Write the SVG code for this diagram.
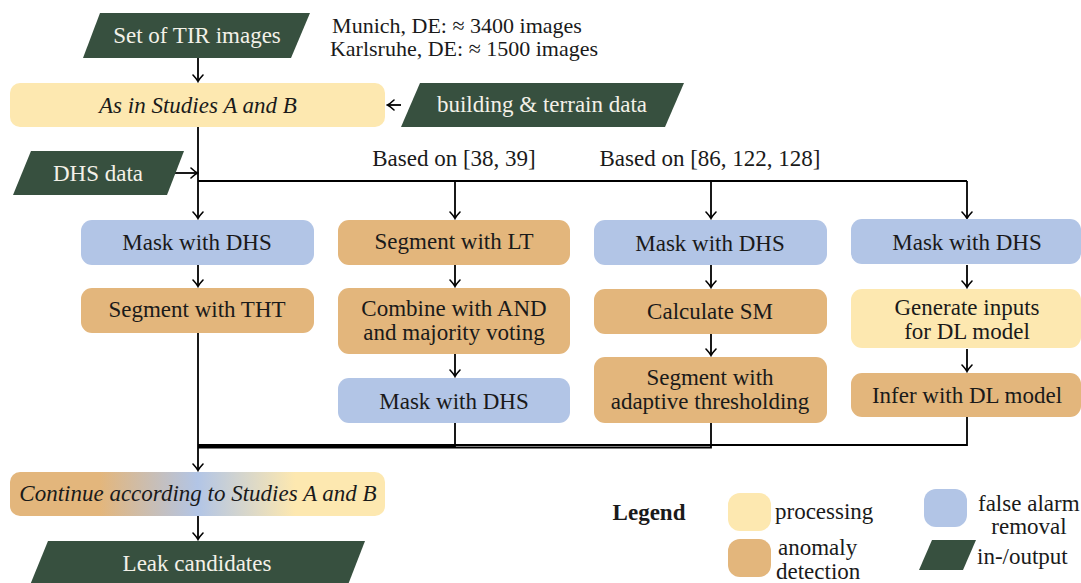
<svg xmlns="http://www.w3.org/2000/svg" width="1081" height="583" viewBox="0 0 1081 583">
  <defs>
    <marker id="ah" viewBox="-8 -6 10 12" refX="0" refY="0" markerWidth="10" markerHeight="12" markerUnits="userSpaceOnUse" orient="auto">
      <path d="M-6,-5 Q-2,-1.2 0.5,0 Q-2,1.2 -6,5" stroke="#000" stroke-width="1.6" fill="none" stroke-linecap="round"/>
    </marker>
    <linearGradient id="mix" x1="10" y1="0" x2="385" y2="0" gradientUnits="userSpaceOnUse">
      <stop offset="0" stop-color="#e3b67c"/>
      <stop offset="0.24" stop-color="#e3b67c"/>
      <stop offset="0.5" stop-color="#b2c5e6"/>
      <stop offset="0.76" stop-color="#fde8b0"/>
      <stop offset="1" stop-color="#fde8b0"/>
    </linearGradient>
  </defs>

  <!-- connectors -->
  <g id="connectors" stroke="#000" stroke-width="1.8" fill="none">
    <g marker-end="url(#ah)">
      <line x1="198" y1="58" x2="198" y2="81"/>
      <line x1="401" y1="105" x2="388" y2="105"/>
      <line x1="198" y1="127" x2="198" y2="218"/>
      <line x1="175" y1="173" x2="197" y2="173"/>
      <line x1="455" y1="181" x2="455" y2="218"/>
      <line x1="711" y1="181" x2="711" y2="218"/>
      <line x1="967" y1="181" x2="967" y2="218"/>
      <line x1="198" y1="265" x2="198" y2="286"/>
      <line x1="455" y1="265" x2="455" y2="286"/>
      <line x1="711" y1="265" x2="711" y2="287"/>
      <line x1="967" y1="265" x2="967" y2="287"/>
      <line x1="455" y1="354" x2="455" y2="376"/>
      <line x1="711" y1="334" x2="711" y2="355"/>
      <line x1="967" y1="349" x2="967" y2="371"/>
      <line x1="198" y1="333" x2="198" y2="470"/>
      <line x1="198" y1="516" x2="198" y2="539"/>
    </g>
    <polyline points="198,181 967,181"/>
    <polyline points="455,423 455,446 198,446"/>
    <polyline points="711,423 711,447.5 198,447.5"/>
    <polyline points="967,417 967,445 198,445"/>
  </g>

  <!-- all labels share one serif face -->
  <g font-family="'Liberation Serif', serif" font-size="23" fill="#1a1a1a" text-anchor="middle" dominant-baseline="central">

    <g id="tir-images">
      <polygon fill="#37503f" points="100,13 310,13 291,58 83,58"/>
      <text fill="#f3f1e8" x="197" y="35">Set of TIR images</text>
    </g>
    <g id="image-counts" font-size="22">
      <text x="457" y="25">Munich, DE: ≈ 3400 images</text>
      <text x="464" y="48">Karlsruhe, DE: ≈ 1500 images</text>
    </g>

    <g id="studies-ab">
      <rect fill="#fde8b0" x="10" y="83" width="375" height="44" rx="10"/>
      <text font-style="italic" x="198" y="105">As in Studies A and B</text>
    </g>

    <g id="building-terrain">
      <polygon fill="#37503f" points="420,83 684,83 665,127 401,127"/>
      <text fill="#f3f1e8" x="542" y="104">building &amp; terrain data</text>
    </g>

    <g id="dhs-data">
      <polygon fill="#37503f" points="31,151 184,151 167,195 13,195"/>
      <text fill="#f3f1e8" x="98" y="173">DHS data</text>
    </g>

    <g id="refs">
      <text x="454" y="158">Based on [38, 39]</text>
      <text x="710" y="158">Based on [86, 122, 128]</text>
    </g>

    <!-- column 1 -->
    <g id="c1-mask">
      <rect fill="#b2c5e6" x="81" y="220" width="233" height="45" rx="11"/>
      <text x="197" y="242">Mask with DHS</text>
    </g>
    <g id="c1-tht">
      <rect fill="#e3b67c" x="81" y="288" width="233" height="45" rx="11"/>
      <text x="197" y="309">Segment with THT</text>
    </g>

    <!-- column 2 -->
    <g id="c2-lt">
      <rect fill="#e3b67c" x="338" y="220" width="232" height="45" rx="11"/>
      <text x="454" y="241">Segment with LT</text>
    </g>
    <g id="c2-combine">
      <rect fill="#e3b67c" x="338" y="288" width="232" height="66" rx="11"/>
      <text x="454" y="308">Combine with AND</text>
      <text x="454" y="332">and majority voting</text>
    </g>
    <g id="c2-mask">
      <rect fill="#b2c5e6" x="338" y="378" width="232" height="45" rx="11"/>
      <text x="454" y="401">Mask with DHS</text>
    </g>

    <!-- column 3 -->
    <g id="c3-mask">
      <rect fill="#b2c5e6" x="594" y="220" width="233" height="45" rx="11"/>
      <text x="710" y="243">Mask with DHS</text>
    </g>
    <g id="c3-sm">
      <rect fill="#e3b67c" x="594" y="289" width="233" height="45" rx="11"/>
      <text x="710" y="311">Calculate SM</text>
    </g>
    <g id="c3-adaptive">
      <rect fill="#e3b67c" x="594" y="357" width="233" height="66" rx="11"/>
      <text x="710" y="377">Segment with</text>
      <text x="710" y="401">adaptive thresholding</text>
    </g>

    <!-- column 4 -->
    <g id="c4-mask">
      <rect fill="#b2c5e6" x="851" y="219" width="230" height="45" rx="11"/>
      <text x="967" y="242">Mask with DHS</text>
    </g>
    <g id="c4-inputs">
      <rect fill="#fde8b0" x="851" y="289" width="230" height="59" rx="11"/>
      <text x="967" y="307">Generate inputs</text>
      <text x="967" y="331">for DL model</text>
    </g>
    <g id="c4-infer">
      <rect fill="#e3b67c" x="851" y="373" width="230" height="44" rx="11"/>
      <text x="967" y="395">Infer with DL model</text>
    </g>

    <g id="continue">
      <rect fill="url(#mix)" x="10" y="472" width="375" height="44" rx="10"/>
      <text font-style="italic" x="198" y="493">Continue according to Studies A and B</text>
    </g>

    <g id="leak-candidates">
      <polygon fill="#37503f" points="48,541 365,541 346,590 28,590"/>
      <text fill="#f3f1e8" x="197" y="563">Leak candidates</text>
    </g>

    <g id="legend">
      <text x="649" y="512" font-weight="bold">Legend</text>
      <rect fill="#fde8b0" x="728" y="493" width="43" height="38" rx="12"/>
      <text text-anchor="start" x="775" y="511">processing</text>
      <rect fill="#e3b67c" x="728" y="539" width="43" height="38" rx="12"/>
      <text text-anchor="start" x="778" y="547">anomaly</text>
      <text text-anchor="start" x="776" y="571">detection</text>
      <rect fill="#b2c5e6" x="924" y="489" width="43" height="38" rx="12"/>
      <text text-anchor="start" x="978" y="503">false alarm</text>
      <text x="1029" y="526">removal</text>
      <polygon fill="#37503f" points="932,540 976,540 963,570 919,570"/>
      <text text-anchor="start" x="977" y="556">in-/output</text>
    </g>
  </g>
</svg>
